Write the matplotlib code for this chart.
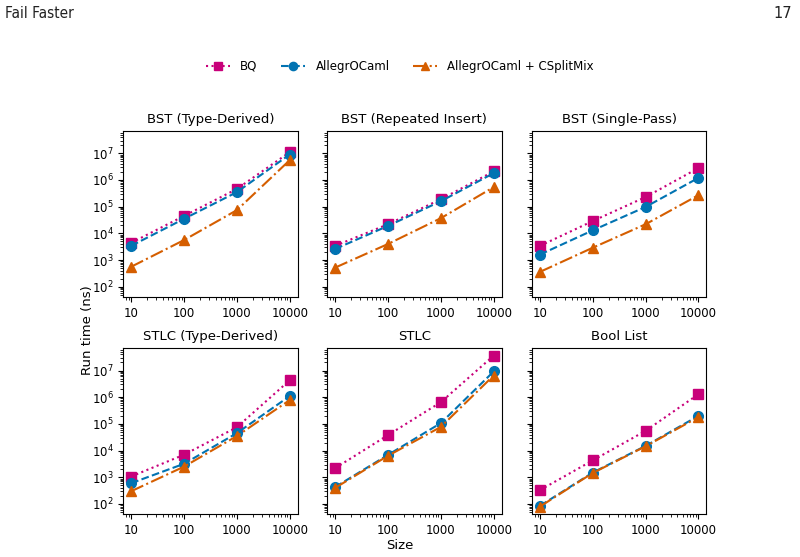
# Run time of the three generators on each benchmark, log-log grid of panels

import numpy as np
import matplotlib.pyplot as plt
from matplotlib.ticker import FixedLocator, FixedFormatter

sizes = [10, 100, 1000, 10000]
size_labels = ["10", "100", "1000", "10000"]
titles = ["BST (Type-Derived)", "BST (Repeated Insert)", "BST (Single-Pass)",
          "STLC (Type-Derived)", "STLC", "Bool List"]

# run time in ns, one row per panel
bq = [[4.4e3, 4.5e4, 4.6e5, 1.1e7],
      [3.4e3, 2.2e4, 1.9e5, 2.1e6],
      [3.4e3, 2.9e4, 2.3e5, 2.8e6],
      [1.07e3, 7.0e3, 7.5e4, 4.3e6],
      [2.2e3, 3.8e4, 6.5e5, 3.6e7],
      [3.3e2, 4.3e3, 5.5e4, 1.3e6]]
allegro = [[3.4e3, 3.5e4, 3.5e5, 9.0e6],
           [2.6e3, 1.9e4, 1.6e5, 1.8e6],
           [1.6e3, 1.3e4, 9.8e4, 1.2e6],
           [6.0e2, 3.2e3, 4.5e4, 1.1e6],
           [4.3e2, 6.9e3, 1.07e5, 9.2e6],
           [85, 1.5e3, 1.5e4, 2.0e5]]
csplit = [[5.6e2, 5.6e3, 7.4e4, 5.5e6],
          [5.2e2, 4.0e3, 3.7e4, 5.4e5],
          [3.6e2, 2.9e3, 2.2e4, 2.7e5],
          [3.0e2, 2.5e3, 3.5e4, 7.8e5],
          [4.0e2, 6.4e3, 7.7e4, 6.5e6],
          [80, 1.45e3, 1.45e4, 1.8e5]]

fig = plt.figure(figsize=(8, 5.57), dpi=100)

fig.text(0.006, 0.975, "Fail Faster", fontsize=11, va="center", ha="left",
         color="#222222", fontstretch="condensed")
fig.text(0.99, 0.975, "17", fontsize=10.5, va="center", ha="right", color="#222222")

lefts = [0.154, 0.409, 0.665]
bottoms = [0.467, 0.077]
w, h = 0.218, 0.298

axes = []
for i, title in enumerate(titles):
    r, c = divmod(i, 3)
    ax = fig.add_axes([lefts[c], bottoms[r], w, h], sharey=axes[0] if axes else None)
    axes.append(ax)
    l1, = ax.plot(sizes, bq[i], ":", marker="s", color="#C8007A", markersize=7, lw=1.5)
    l2, = ax.plot(sizes, allegro[i], "--", marker="o", color="#0173B2", markersize=7, lw=1.5)
    l3, = ax.plot(sizes, csplit[i], "-.", marker="^", color="#D55E00", markersize=7, lw=1.5)
    ax.set_xscale("log")
    ax.set_yscale("log")
    ax.xaxis.set_major_locator(FixedLocator(sizes))
    ax.xaxis.set_major_formatter(FixedFormatter(size_labels))
    ax.set_title(title, fontsize=9.5)
    ax.tick_params(labelsize=8.5)
    if c != 0:
        ax.tick_params(labelleft=False)

axes[0].set_yticks([1e2, 1e3, 1e4, 1e5, 1e6, 1e7])

fig.text(0.109, 0.407, "Run time (ns)", rotation=90, fontsize=9.5, ha="center", va="center")
fig.text(0.5, 0.02, "Size", fontsize=9.5, ha="center", va="center")

fig.legend([l1, l2, l3], ["BQ", "AllegrOCaml", "AllegrOCaml + CSplitMix"],
           loc="center", bbox_to_anchor=(0.5, 0.881), ncol=3, frameon=False,
           fontsize=8.5, handlelength=2.0, handletextpad=0.9, columnspacing=2.0,
           markerscale=0.85)

plt.savefig("out.png", dpi=100)
